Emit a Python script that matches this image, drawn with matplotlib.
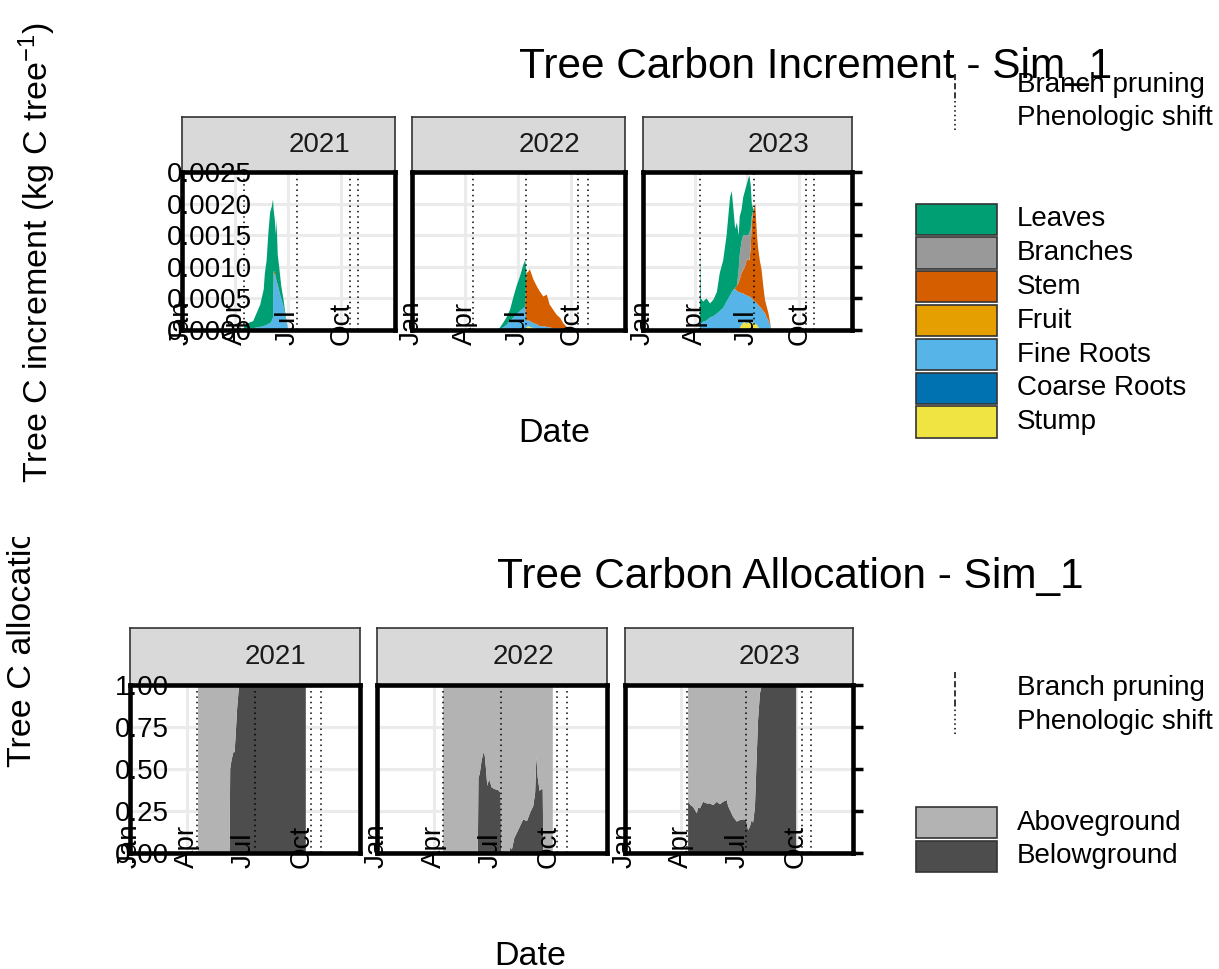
import matplotlib
matplotlib.use('Agg')
import matplotlib.pyplot as plt
from matplotlib.lines import Line2D
from matplotlib.patches import Rectangle
from matplotlib.transforms import Bbox, TransformedBbox

plt.rcParams['font.family'] = 'Liberation Sans'
plt.rcParams['mathtext.fontset'] = 'custom'
plt.rcParams['mathtext.rm'] = 'Liberation Sans'
plt.rcParams['mathtext.it'] = 'Liberation Sans:italic'

# ---- data (day of year) ----
years = ['2021', '2022', '2023']
organs = ['Leaves', 'Branches', 'Stem', 'Fruit', 'Fine Roots', 'Coarse Roots', 'Stump']
organ_colors = ['#009E73', '#999999', '#D55E00', '#E69F00', '#56B4E9', '#0072B2', '#F0E442']

days_2021 = [106, 111, 116, 122, 128, 134, 140, 142, 145, 148, 151, 154, 156, 157, 159, 161,
             162, 164, 167, 170, 174, 177, 179, 182]
leaves_2021 = [0.00003, 0.00008, 0.00010, 0.00011, 0.00023, 0.00035, 0.00058, 0.00083, 0.00102,
               0.00144, 0.00176, 0.00181, 0.00187, 0.00097, 0.00083, 0.00067, 0.00097, 0.00048,
               0.00036, 0.00020, 0.00011, 0.00005, 0.00004, 0.0]
branches_2021 = [0.0] * len(days_2021)
stem_2021 = [0, 0, 0, 0, 0, 0, 0, 0, 0, 0, 0, 0, 0, 0.00003, 0.00004, 0.00003, 0, 0.00002,
             0, 0, 0, 0, 0, 0]
fruit_2021 = [0.0] * len(days_2021)
fine_2021 = [0.00001, 0.00002, 0.00002, 0.00003, 0.00004, 0.00005, 0.00006, 0.00007, 0.00008,
             0.00010, 0.00010, 0.00015, 0.00020, 0.00090, 0.00088, 0.00080, 0.00078, 0.00070,
             0.00060, 0.00050, 0.00037, 0.00022, 0.00012, 0.0]
coarse_2021 = [0.0] * len(days_2021)
stump_2021 = [0.0] * len(days_2021)

days_2022 = [145, 150, 156, 162, 168, 174, 179, 185, 190, 194, 196, 199, 202, 208, 214, 219,
             225, 231, 236, 242, 248, 254, 259, 265, 268]
leaves_2022 = [0, 0.00002, 0.00007, 0.00012, 0.00017, 0.00033, 0.00044, 0.00055, 0.00067, 0.00074,
               0, 0, 0, 0, 0, 0, 0, 0, 0, 0, 0, 0, 0, 0, 0]
branches_2022 = [0.0] * len(days_2022)
stem_2022 = [0, 0, 0, 0, 0, 0, 0, 0, 0, 0,
             0.00076, 0.00076, 0.00082, 0.00069, 0.00060, 0.00055, 0.00047, 0.00051, 0.00036,
             0.00029, 0.00021, 0.00017, 0.00010, 0.00004, 0]
fruit_2022 = [0.0] * len(days_2022)
fine_2022 = [0, 0.00001, 0.00004, 0.00008, 0.00015, 0.00020, 0.00025, 0.00030, 0.00034, 0.00037,
             0.00010, 0.00010, 0.00009, 0.00008, 0.00007, 0.00006, 0.00006, 0.00005, 0.00004,
             0.00003, 0.00003, 0.00002, 0.00001, 0.00001, 0]
coarse_2022 = [0.0] * len(days_2022)
stump_2022 = [0, 0, 0, 0, 0, 0, 0, 0, 0, 0, 0.00004, 0.00006, 0.00005, 0.00003, 0.00002,
              0, 0, 0, 0, 0, 0, 0, 0, 0, 0]

days_2023 = [99, 100, 101, 105, 111, 117, 123, 129, 134, 140, 146, 149, 152, 155, 158, 161, 164,
             167, 169, 172, 175, 178, 181, 184, 186, 188, 190, 193, 196, 199, 201, 204, 207, 210,
             213, 216, 219, 222, 224]
leaves_2023 = [0, 0.0012, 0.0004, 0.00032, 0.00035, 0.00022, 0.00026, 0.00034, 0.0006, 0.00075,
               0.00105, 0.0013, 0.00155, 0.0016, 0.00126, 0.00093, 0.0010, 0.00055, 0.0006, 0.0005,
               0.0006, 0.0007, 0.0008, 0.0009, 0.00089, 0.0007, 0.0002,
               0, 0, 0, 0, 0, 0, 0, 0, 0, 0, 0, 0]
branches_2023 = [0, 0, 0, 0, 0, 0, 0, 0, 0, 0, 0, 0, 0, 0, 0, 0, 0,
                 0.0002, 0.0004, 0.0005, 0.00055, 0.0005, 0.0004, 0.00038, 0.00045, 0.0003, 0.0001,
                 0, 0, 0, 0, 0, 0, 0, 0, 0, 0, 0, 0]
stem_2023 = [0, 0, 0, 0, 0, 0, 0, 0, 0, 0, 0, 0, 0, 0, 0,
             0.00002, 0.00008, 0.00015, 0.0002, 0.00032, 0.00037, 0.00044, 0.00055, 0.00058,
             0.00057, 0.00078, 0.0012, 0.00143, 0.00155, 0.00108, 0.0009, 0.00073, 0.00062,
             0.0004, 0.00021, 0.00017, 0.00012, 0.00004, 0]
fruit_2023 = [0.0] * len(days_2023)
fine_2023 = [0, 0.0001, 0.0001, 0.00013, 0.00015, 0.0002, 0.00022, 0.00026, 0.0003, 0.00035,
             0.00045, 0.0005, 0.00055, 0.0006, 0.00064, 0.00065, 0.00062, 0.0006, 0.00057, 0.0005,
             0.00046, 0.00044, 0.00045, 0.00042, 0.00039, 0.0004, 0.0004, 0.00035, 0.00035,
             0.00034, 0.00035, 0.00035, 0.00034, 0.0003, 0.00027, 0.0002, 0.00015, 0.00008, 0]
coarse_2023 = [0.0] * len(days_2023)
stump_2023 = [0, 0, 0, 0, 0, 0, 0, 0, 0, 0, 0, 0, 0, 0, 0, 0, 0, 0,
              0.00003, 0.00008, 0.00012, 0.00012, 0.0001, 0.00012, 0.00014, 0.00012, 0.0001,
              0.00012, 0.0001, 0.00008, 0.00005, 0.00002,
              0, 0, 0, 0, 0, 0, 0]

# allocation fractions
alloc_groups = ['Aboveground', 'Belowground']
alloc_colors = ['#B3B3B3', '#4D4D4D']

days_b2021 = [108, 158, 159, 161, 164, 166, 168, 169, 170, 172, 173, 279]
below_2021 = [0, 0, 0.50, 0.55, 0.60, 0.60, 0.72, 0.79, 0.86, 0.95, 1.0, 1.0]
above_2021 = [1, 1, 0.50, 0.45, 0.40, 0.40, 0.28, 0.21, 0.14, 0.05, 0, 0]

days_b2022 = [105, 160, 161, 163, 166, 169, 171, 173, 175, 178, 182, 187, 192, 196, 197, 210,
              212, 214, 218, 222, 227, 232, 238, 243, 248, 251, 253, 255, 258, 261, 263, 264, 279]
below_2022 = [0, 0, 0.45, 0.47, 0.55, 0.60, 0.58, 0.50, 0.40, 0.44, 0.39, 0.38, 0.375, 0.36, 0,
              0, 0.04, 0.02, 0.09, 0.12, 0.16, 0.20, 0.19, 0.24, 0.28, 0.36, 0.58, 0.45, 0.37,
              0.38, 0.38, 0, 0]
above_2022 = [1, 1, 0.55, 0.53, 0.45, 0.40, 0.42, 0.50, 0.60, 0.56, 0.61, 0.62, 0.625, 0.64, 1,
              1, 0.96, 0.98, 0.91, 0.88, 0.84, 0.80, 0.81, 0.76, 0.72, 0.64, 0.42, 0.55, 0.63,
              0.62, 0.62, 1, 1]

days_b2023 = [101, 105, 109, 115, 117, 120, 125, 131, 136, 141, 147, 152, 157, 163, 165, 168,
              173, 179, 184, 189, 194, 197, 200, 203, 205, 208, 211, 213, 216, 219, 274]
below_2023 = [0.305, 0.285, 0.275, 0.236, 0.27, 0.266, 0.305, 0.295, 0.295, 0.285, 0.305, 0.29,
              0.305, 0.315, 0.28, 0.256, 0.216, 0.187, 0.196, 0.2, 0.196, 0.137, 0.157, 0.2,
              0.18, 0.27, 0.59, 0.79, 0.95, 1.0, 1.0]
above_2023 = [0.695, 0.715, 0.725, 0.764, 0.73, 0.734, 0.695, 0.705, 0.705, 0.715, 0.695, 0.71,
              0.695, 0.685, 0.72, 0.744, 0.784, 0.813, 0.804, 0.8, 0.804, 0.863, 0.843, 0.8,
              0.82, 0.73, 0.41, 0.21, 0.05, 0.0, 0.0]

# phenologic shift dates (day of year)
events_top = {'2021': [106, 197, 288, 302], '2022': [105, 196, 285, 302], '2023': [100, 194, 284, 299]}
events_bot = {'2021': [107, 198, 288, 303], '2022': [105, 197, 286, 301], '2023': [100, 194, 283, 297]}

month_days = [0, 90, 181, 273]
month_labels = ['Jan', 'Apr', 'Jul', 'Oct']

incr_ticks = [0, 0.0005, 0.0010, 0.0015, 0.0020, 0.0025]
incr_labels = ['0.0000', '0.0005', '0.0010', '0.0015', '0.0020', '0.0025']
alloc_ticks = [0, 0.25, 0.5, 0.75, 1.0]
alloc_labels = ['0.00', '0.25', '0.50', '0.75', '1.00']

top_series = {
    '2021': (days_2021, [leaves_2021, branches_2021, stem_2021, fruit_2021, fine_2021, coarse_2021, stump_2021]),
    '2022': (days_2022, [leaves_2022, branches_2022, stem_2022, fruit_2022, fine_2022, coarse_2022, stump_2022]),
    '2023': (days_2023, [leaves_2023, branches_2023, stem_2023, fruit_2023, fine_2023, coarse_2023, stump_2023]),
}
bot_series = {
    '2021': (days_b2021, [above_2021, below_2021]),
    '2022': (days_b2022, [above_2022, below_2022]),
    '2023': (days_b2023, [above_2023, below_2023]),
}

# ---- layout (pixels) ----
W, H = 1219, 969
fig = plt.figure(figsize=(W / 100, H / 100), dpi=100)


def rect(x0, y0, x1, y1):
    return [x0 / W, 1 - y1 / H, (x1 - x0) / W, (y1 - y0) / H]


def fx(x):
    return x / W


def fy(y):
    return 1 - y / H


top_cols = [(182, 395), (412, 625), (643, 852)]
bot_cols = [(130, 360), (377, 607), (625, 853)]
top_rows = (117, 172, 330)
bot_rows = (628, 685, 853)

FS_TICK = 20
FS_AXIS = 24.5


def draw_panel(i, year, cols, rows, days, stacks, colors, events, yticks, ylabels, ymax):
    x0, x1 = cols
    s = fig.add_axes(rect(x0, rows[0], x1, rows[1]))
    s.set_facecolor('#D9D9D9')
    s.set_xticks([])
    s.set_yticks([])
    for sp in s.spines.values():
        sp.set_color('#333333')
        sp.set_linewidth(1.2)
    s.text(0.5 + 31 / (x1 - x0), 0.5, year, transform=s.transAxes, ha='center', va='center',
           fontsize=20, color='#1A1A1A')

    ax = fig.add_axes(rect(x0, rows[1], x1, rows[2]))
    ax.set_facecolor('white')
    # grid drawn by hand so tick labels can sit above the areas
    for t in yticks:
        ax.axhline(t, color='#EBEBEB', lw=2.2, zorder=0.5)
    for t in month_days:
        ax.axvline(t, color='#EBEBEB', lw=2.2, zorder=0.5)
    # stack bottom-up: reverse legend order
    ax.stackplot(days, *stacks[::-1], colors=colors[::-1], linewidth=0, zorder=1)
    for d in events:
        ax.axvline(d, color='black', ls=(0, (1, 2.5)), lw=1.1, zorder=2)
    ax.set_xlim(0, 365)
    ax.set_ylim(0, ymax)
    ax.set_xticks(month_days, month_labels, rotation=90, rotation_mode='anchor',
                  ha='left', va='center', fontsize=FS_TICK)
    ax.tick_params(axis='x', length=0, pad=11)
    ax.set_yticks(yticks)
    if i == 0:
        ax.set_yticklabels(ylabels, ha='left', fontsize=FS_TICK)
        ax.tick_params(axis='y', length=0, pad=11)
    elif i == 2:
        ax.tick_params(axis='y', left=False, right=True, labelleft=False, length=7.5, width=2.5)
    else:
        ax.tick_params(axis='y', left=False, labelleft=False)
    for sp in ax.spines.values():
        sp.set_color('black')
        sp.set_linewidth(3.3)
    return ax


for i, year in enumerate(years):
    days, stacks = top_series[year]
    draw_panel(i, year, top_cols[i], top_rows, days, stacks, organ_colors, events_top[year],
               incr_ticks, incr_labels, 0.0025)
    days, stacks = bot_series[year]
    draw_panel(i, year, bot_cols[i], bot_rows, days, stacks, alloc_colors, events_bot[year],
               alloc_ticks, alloc_labels, 1.0)

# titles and axis titles
fig.text(fx(816), fy(78), 'Tree Carbon Increment - Sim_1', ha='center', va='baseline', fontsize=30.5)
fig.text(fx(790), fy(588), 'Tree Carbon Allocation - Sim_1', ha='center', va='baseline', fontsize=30.5)
fig.text(fx(554), fy(442), 'Date', ha='center', va='baseline', fontsize=FS_AXIS)
fig.text(fx(530), fy(965), 'Date', ha='center', va='baseline', fontsize=FS_AXIS)
fig.text(fx(37), fy(253), 'Tree C increment (kg C tree$^{-1}$)', rotation=90, ha='center',
         va='center', fontsize=FS_AXIS)
ylab2 = fig.text(fx(23), fy(767), 'Tree C allocation (%)', rotation=90, ha='center', va='bottom',
                 fontsize=FS_AXIS)
ylab2.set_clip_box(TransformedBbox(Bbox([[0, 0], [1, fy(537)]]), fig.transFigure))
ylab2.set_clip_on(True)


# legends
def line_key(y_top, y_mid, y_bot, y_text1, y_text2):
    fig.add_artist(Line2D([fx(955), fx(955)], [fy(y_top), fy(y_mid)], transform=fig.transFigure,
                          color='black', lw=1.1, ls=(0, (4, 2))))
    fig.add_artist(Line2D([fx(955), fx(955)], [fy(y_mid), fy(y_bot)], transform=fig.transFigure,
                          color='black', lw=1.1, ls=(0, (1, 2))))
    fig.text(fx(1017), fy(y_text1), 'Branch pruning', ha='left', va='center', fontsize=20)
    fig.text(fx(1017), fy(y_text2), 'Phenologic shift', ha='left', va='center', fontsize=20)


def fill_key(labels, colors, y_start, step):
    for k, (lab, col) in enumerate(zip(labels, colors)):
        ya = y_start + k * step
        fig.add_artist(Rectangle((fx(916), fy(ya + step - 1.5)), (997 - 916) / W, (step - 2.5) / H,
                                 transform=fig.transFigure, facecolor=col, edgecolor='#333333', lw=1.2))
        fig.text(fx(1017), fy(ya + step / 2), lab, ha='left', va='center', fontsize=20)


line_key(74, 101, 133, 85, 118)
fill_key(organs, organ_colors, 202.5, 33.8)
line_key(672, 705, 737, 688, 722)
fill_key(alloc_groups, alloc_colors, 806, 33.5)

fig.savefig('out.png', dpi=100)
